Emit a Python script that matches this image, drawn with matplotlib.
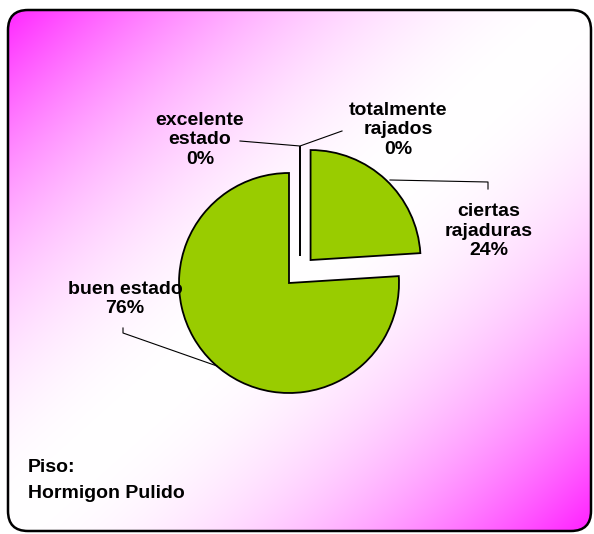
import numpy as np
import matplotlib
matplotlib.use("Agg")
import matplotlib.pyplot as plt
from matplotlib.patches import FancyBboxPatch

categories = ["excelente\nestado", "totalmente\nrajados", "ciertas\nrajaduras", "buen estado"]
values = [0, 0, 24, 76]
note_lines = ["Piso:", "Hormigon Pulido"]

W, H = 594, 534
fig = plt.figure(figsize=(W / 100, H / 100), dpi=100)
fig.patch.set_facecolor("white")
ax = fig.add_axes([0, 0, 1, 1])

def py(y):
    return H - y

# Background gradient in rounded frame
frame = FancyBboxPatch((8, py(531)), 583, 521, boxstyle="round,pad=0,rounding_size=20",
                       facecolor="none", edgecolor="black", linewidth=1.8, zorder=5)
yy, xx = np.mgrid[0:H, 0:W]
s = xx / W + yy / H
t = np.abs(s - 1.0)
t = np.clip(t, 0, 1) ** 1.9
mag = np.array([255, 25, 255]) / 255.0
img = np.ones((H, W, 3)) * (1 - t[..., None]) + mag * t[..., None]
im = ax.imshow(img, extent=(0, W, 0, H), origin="upper", zorder=0, interpolation="bilinear")
ax.add_patch(frame)
im.set_clip_path(frame)

# Pie
cx, cy, R = 289, py(283), 110
explode = [27, 27, 31.5, 0]
wedges, _ = ax.pie(values, explode=explode, startangle=90, counterclock=False,
                   colors=["#99CC00"] * 4, radius=R, center=(cx, cy),
                   wedgeprops=dict(edgecolor="black", linewidth=1.3))
for w in wedges[:2]:
    w.set_center((300, py(256)))
    w.set_linewidth(1.3)
for w in wedges:
    w.set_zorder(3)

total = sum(values)
pct = [f"{v / total * 100:.0f}%" for v in values]

fnt = dict(family=["Liberation Sans", "DejaVu Sans"], fontweight="bold", fontsize=14,
           color="black", linespacing=1.2, zorder=6)

label_pos = [(200, 140), (398, 130), (489, 231), (125, 299)]
for (x, y), cat, p in zip(label_pos, categories, pct):
    ax.text(x, py(y), f"{cat}\n{p}", ha="center", va="center", **fnt)

lk = dict(color="black", linewidth=0.8, zorder=4)
ax.plot([240, 300, 342], [py(141), py(146), py(131)], **lk)
ax.plot([390, 488, 488], [py(180), py(182), py(189)], **lk)
ax.plot([123, 123, 217], [py(328), py(333), py(366)], **lk)

ax.text(28, py(468), note_lines[0], ha="left", va="center", **fnt)
ax.text(28, py(494), note_lines[1], ha="left", va="center", **fnt)

ax.set_xlim(0, W)
ax.set_ylim(0, H)
ax.set_aspect("auto")
ax.axis("off")
fig.savefig("out.png", dpi=100, facecolor="white")
